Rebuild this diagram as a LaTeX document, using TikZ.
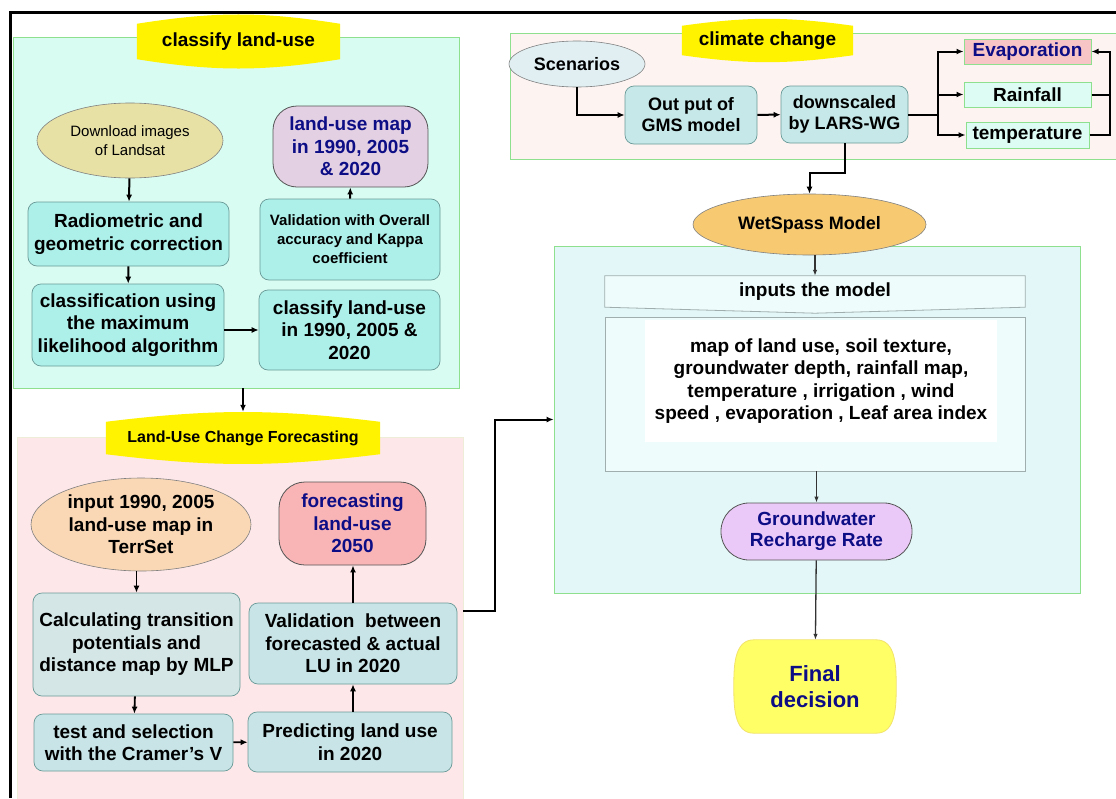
\documentclass[tikz,border=0pt]{standalone}
\usepackage{fontspec}
\setmainfont{Liberation Sans}
\usepackage{xcolor}
\usepackage{tikz}
\usetikzlibrary{shapes.geometric, arrows.meta}

\pgfdeclarelayer{back}
\pgfsetlayers{back,main}

\definecolor{mintpanel}{HTML}{D9FCF2}
\definecolor{panelgreen}{HTML}{8EE08E}
\definecolor{pinkpanel}{HTML}{FDE7E9}
\definecolor{pinkedge}{HTML}{EEEED8}
\definecolor{climpanel}{HTML}{FDF4F2}
\definecolor{wetpanel}{HTML}{E3F7F8}
\definecolor{ttlyellow}{HTML}{FFF300}
\definecolor{khaki}{HTML}{E7E1A6}
\definecolor{tealbox}{HTML}{ADEFE9}
\definecolor{boxedge}{HTML}{6A9A98}
\definecolor{lilacfill}{HTML}{E3D0E3}
\definecolor{inkblue}{HTML}{0D0D85}
\definecolor{greybox}{HTML}{D4E6E6}
\definecolor{cyanbox}{HTML}{C8E4E6}
\definecolor{peach}{HTML}{FAD8B6}
\definecolor{salmon}{HTML}{F9B5B6}
\definecolor{scenfill}{HTML}{E1EFF3}
\definecolor{gmsfill}{HTML}{C6E8E8}
\definecolor{evapfill}{HTML}{F8C5C6}
\definecolor{rainfill}{HTML}{DDFCF3}
\definecolor{orangeov}{HTML}{F7CA72}
\definecolor{inhead}{HTML}{EEFCFC}
\definecolor{inedge}{HTML}{A0AEAE}
\definecolor{violetfill}{HTML}{EAC8F7}
\definecolor{lemon}{HTML}{FFFF66}
\definecolor{lemonedge}{HTML}{F2E26A}
\definecolor{darkline}{HTML}{333333}
\definecolor{stadedge}{HTML}{555555}

\begin{document}
\begin{tikzpicture}[
  x=1pt, y=-1pt,
  every node/.style={
    align=center, inner sep=2pt,
    font=\bfseries\fontsize{19}{22.5}\selectfont
  },
  wh/.style 2 args={minimum width=#1pt, minimum height=#2pt},
  panel/.style={rectangle, draw=panelgreen, line width=.8pt, inner sep=0pt},
  tbox/.style={rectangle, rounded corners=9pt, draw=boxedge, line width=.7pt, fill=tealbox},
  gbox/.style={rectangle, rounded corners=9pt, draw=boxedge, line width=.7pt, fill=cyanbox},
  oval/.style={ellipse, draw=gray, line width=.6pt, inner sep=0pt},
  stad/.style={rectangle, rounded corners=24pt, draw=stadedge, line width=.8pt, text=inkblue},
  vbox/.style={rectangle, draw=panelgreen, line width=1pt, inner sep=0pt},
  arr/.style={-{Latex[length=7pt,width=6pt]}, line width=2pt},
  thinarr/.style={-{Latex[length=6pt,width=4.5pt]}, line width=1.3pt, draw=darkline}
]
\useasboundingbox (0,0) rectangle (1116,798);

% panels
\begin{pgfonlayer}{back}
\node[panel, fill=mintpanel, wh={446}{351}] (p1) at (236,212.5) {};
\node[panel, fill=pinkpanel, draw=pinkedge, wh={446}{362}] (p2) at (240,618) {};
\node[panel, fill=climpanel, wh={612}{126}] (p3) at (816,96) {};
\node[panel, fill=wetpanel, wh={526}{347}] (p4) at (817,419.5) {};
\end{pgfonlayer}

\draw[line width=3pt] (10,798) -- (10,12) -- (1120,12);

\node[wh={203}{53}] (t1) at (238.5,41.5) {classify land-use};
\node[wh={274}{52}, font=\bfseries\fontsize{16}{19}\selectfont] (t2) at (243,438) {Land-Use Change Forecasting};
\node[wh={171}{43}] (t3) at (767.5,40.5) {climate change};

% classify land-use
\node[oval, fill=khaki, wh={186}{75}, font=\fontsize{15}{19}\selectfont] (dl) at (130,140.5) {Download images\\of Landsat};
\node[tbox, wh={201}{64}] (radio) at (128.5,234) {Radiometric and\\geometric correction};
\node[tbox, wh={192}{82}] (mlc) at (128,325) {classification using\\the maximum\\likelihood algorithm};
\node[tbox, wh={181}{80}] (cls) at (349.5,330) {classify land-use\\in 1990, 2005 \&\\2020};
\node[tbox, wh={180}{81}, font=\bfseries\fontsize{15}{19}\selectfont] (acc) at (350,239.5) {Validation with Overall\\accuracy and Kappa\\coefficient};
\node[stad, fill=lilacfill, wh={155}{81}] (lumap) at (350.5,146.5) {land-use map\\in 1990, 2005\\\& 2020};

\draw[arr] (dl) -- (radio);
\draw[arr] (radio) -- (mlc);
\draw[arr] (mlc.east |- cls.west) -- (cls.west);
\draw[arr] (acc) -- (lumap);
\draw[arr] (p1.south -| t2.north) -- (t2.north);

% forecasting
\node[oval, fill=peach, wh={220}{93}] (inmap) at (141,524.5) {input 1990, 2005\\land-use map in\\TerrSet};
\node[gbox, fill=greybox, wh={207}{103}] (mlp) at (136.5,644.5) {Calculating transition\\potentials and\\distance map by MLP};
\node[gbox, wh={199}{57}] (cramer) at (133.5,742.5) {test and selection\\with the Cramer’s V};
\node[gbox, wh={204}{60}] (pred) at (350,742) {Predicting land use\\in 2020};
\node[gbox, wh={208}{81}] (val) at (353,643.5) {Validation\ \ between\\forecasted \& actual\\LU in 2020};
\node[stad, fill=salmon, rounded corners=26pt, wh={147}{83}] (fore) at (352.5,523.5) {forecasting\\land-use\\2050};

\draw[arr, line width=1.8pt] (inmap.south -| mlp.north) -- (mlp.north);
\draw[arr, line width=1.8pt] (mlp) -- (cramer);
\draw[arr, line width=1.8pt] (cramer) -- (pred);
\draw[arr, line width=1.8pt] (pred.north -| val.south) -- (val.south);
\draw[arr, line width=1.8pt] (val.north) -- (val.north |- fore.south);

% climate change
\node[oval, fill=scenfill, wh={136}{46}, font=\bfseries\fontsize{18}{21}\selectfont] (scen) at (577,64) {Scenarios};
\node[tbox, fill=gmsfill, wh={132}{58}, font=\bfseries\fontsize{18}{21}\selectfont] (gms) at (691,115) {Out put of\\GMS model};
\node[tbox, fill=gmsfill, wh={127}{57}, font=\bfseries\fontsize{18}{21}\selectfont] (lars) at (844.5,114.5) {downscaled\\by LARS-WG};
\node[vbox, fill=evapfill, text=inkblue, wh={127}{25}] (evap) at (1027.5,51.5) {Evaporation};
\node[vbox, fill=rainfill, wh={127}{25}] (rain) at (1027.5,94.5) {Rainfall};
\node[vbox, fill=rainfill, wh={123}{26}] (temp) at (1027.5,135) {temperature};
\coordinate (split) at (938,114.5);
\coordinate (loop) at (1110,94.5);

\draw[arr] (scen.south) |- (gms.west);
\draw[arr] (gms) -- (lars);
\draw[line width=2pt] (lars.east) -- (split);
\foreach \n in {evap,rain,temp}
  \draw[arr] (split) |- (\n.west);
\draw[line width=2pt] (rain.east) -- (loop);
\draw[arr] (temp.east) -| (loop) |- (evap.east);

% WetSpass
\node[oval, fill=orangeov, wh={233}{61}, font=\bfseries\fontsize{18}{21}\selectfont] (wet) at (809.5,224.5) {WetSpass Model};
\node[wh={420}{31}, inner sep=0pt] (inbox) at (815,291.5) {inputs the model};
\node[draw=inedge, fill=inhead, line width=.8pt, wh={420}{154}] (inlist) at (815,394) {};
\node[fill=white, inner sep=0pt, wh={352}{122}] (intext) at (821,381) {map of land use, soil texture,\\groundwater depth, rainfall map,\\temperature , irrigation , wind\\speed , evaporation , Leaf area index};
\node[stad, fill=violetfill, rounded corners=28pt, wh={191}{57}, font=\bfseries\fontsize{19}{21}\selectfont] (gw) at (816.5,531.5) {Groundwater\\Recharge Rate};
\node[wh={162}{93}, text=inkblue, font=\bfseries\fontsize{22}{26}\selectfont] (final) at (815,686.5) {Final\\decision};

\draw[arr] (lars.south) -- ++(0,30) -| (wet.north);
\draw[thinarr] (wet.south -| inbox.north) -- (inbox.north);
\draw[thinarr] (inlist.south -| gw.north) -- (gw.north);
\draw[thinarr] (gw) -- (final);

\coordinate (vout) at (463,611);
\draw[arr] (vout) -- ++(32,0) |- (p4.west);

% shapes behind the texts
\begin{pgfonlayer}{back}
\foreach \t/\a/\b in {t1/9/9, t2/7/10, t3/8/7}
  \fill[ttlyellow] ([yshift=-\b]\t.north west) to[bend left=\a] ([yshift=-\b]\t.north east)
    -- ([yshift=\b]\t.south east) to[bend left=\a] ([yshift=\b]\t.south west) -- cycle;
\filldraw[fill=inhead, draw=inedge, line width=.8pt] (inbox.south west) -- (inbox.north west)
  -- (inbox.north east) -- (inbox.south east) -- ([yshift=-6]inbox.south) -- cycle;
\filldraw[fill=lemon, draw=lemonedge, line width=.8pt] ([xshift=20]final.north west)
  -- ([xshift=-20]final.north east) to[out=0,in=90] (final.east)
  to[out=-90,in=0] ([xshift=-20]final.south east) -- ([xshift=20]final.south west)
  to[out=180,in=-90] (final.west) to[out=90,in=180] ([xshift=20]final.north west) -- cycle;
\end{pgfonlayer}
\end{tikzpicture}
\end{document}
